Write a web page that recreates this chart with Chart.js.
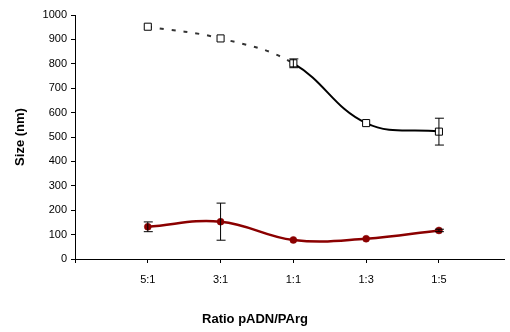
<!DOCTYPE html>
<html>
<head>
<meta charset="utf-8">
<script src="https://cdn.jsdelivr.net/npm/chart.js@4/dist/chart.umd.min.js"></script>
<style>
  html, body { margin: 0; padding: 0; background: #fff; }
  #wrap { width: 510px; height: 332px; }
</style>
</head>
<body>
<div id="wrap"><canvas id="sizeChart" width="510" height="332"></canvas></div>
<script>
// categories and values
const ratioLabels = ["5:1", "3:1", "1:1", "1:3", "1:5"];
const ratioPos = [1, 2, 3, 4, 5];
const sizeOpen = [952, 904, 802, 557, 522];
const errOpen = [0, 0, 18, 0, 55];
const sizeFilled = [132, 153, 78, 83, 117];
const errFilled = [20, 76, 0, 0, 5];
const yTicks = [0, 100, 200, 300, 400, 500, 600, 700, 800, 900, 1000];

const FONT = "'Liberation Sans', Arial, sans-serif";

// simple error bar plugin, drawn with the chart scales
const errorBars = {
  id: "errorBars",
  afterDatasetsDraw(chart) {
    const { ctx, scales } = chart;
    const sets = [
      [sizeOpen, errOpen],
      [sizeFilled, errFilled],
    ];
    ctx.save();
    ctx.strokeStyle = "#000";
    ctx.lineWidth = 1;
    sets.forEach(([vals, errs]) => {
      vals.forEach((v, i) => {
        if (!errs[i]) return;
        const x = scales.x.getPixelForValue(ratioPos[i]);
        const yHi = scales.y.getPixelForValue(v + errs[i]);
        const yLo = scales.y.getPixelForValue(v - errs[i]);
        ctx.beginPath();
        ctx.moveTo(x, yHi);
        ctx.lineTo(x, yLo);
        ctx.moveTo(x - 4, yHi);
        ctx.lineTo(x + 5, yHi);
        ctx.moveTo(x - 4, yLo);
        ctx.lineTo(x + 5, yLo);
        ctx.stroke();
      });
    });
    ctx.restore();
  },
};

new Chart(document.getElementById("sizeChart"), {
  type: "line",
  data: {
    datasets: [
      {
        label: "open",
        data: ratioPos.map((x, i) => ({ x, y: sizeOpen[i] })),
        borderColor: "#000",
        borderWidth: 2,
        tension: 0.4,
        pointStyle: "rect",
        pointRadius: 5,
        pointBackgroundColor: "#fff",
        pointBorderColor: "#000",
        pointBorderWidth: 1,
        segment: {
          borderDash: (c) => (c.p1DataIndex <= 2 ? [4, 8] : undefined),
          borderColor: (c) => (c.p1DataIndex <= 2 ? "#333" : "#000"),
        },
        clip: false,
      },
      {
        label: "filled",
        data: ratioPos.map((x, i) => ({ x, y: sizeFilled[i] })),
        borderColor: "#8b0000",
        borderWidth: 2.5,
        tension: 0.4,
        pointStyle: "circle",
        pointRadius: 3.5,
        pointBorderWidth: 0.5,
        pointBackgroundColor: "#8b0000",
        pointBorderColor: "#8b0000",
        clip: false,
      },
    ],
  },
  options: {
    responsive: false,
    animation: false,
    layout: { padding: { top: 15, right: 0, left: 0, bottom: 0 } },
    plugins: {
      legend: { display: false },
      tooltip: { enabled: false },
      title: {
        display: true,
        position: "bottom",
        text: "Ratio pADN/PArg",
        color: "#000",
        font: { family: FONT, size: 13, weight: "bold" },
        padding: { top: 0, bottom: 5 },
      },
    },
    scales: {
      x: {
        type: "linear",
        min: 0,
        max: 5.894,
        afterBuildTicks: (s) => {
          s.ticks = [0, ...ratioPos].map((v) => ({ value: v }));
        },
        afterFit: (s) => {
          s.height = 52.4;
        },
        ticks: {
          color: "#000",
          font: { family: FONT, size: 11 },
          padding: 10,
          maxRotation: 0,
          autoSkip: false,
          callback: (v) => ratioLabels[ratioPos.indexOf(v)] || "",
        },
        grid: { drawOnChartArea: false, tickLength: 4, color: "#000" },
        border: { color: "#000", width: 1 },
      },
      y: {
        min: 0,
        max: 1000,
        afterBuildTicks: (s) => {
          s.ticks = yTicks.map((v) => ({ value: v }));
        },
        afterFit: (s) => {
          s.width = 75;
        },
        ticks: {
          color: "#000",
          font: { family: FONT, size: 11 },
          padding: 4,
          callback: (v) => String(v),
        },
        grid: { drawOnChartArea: false, tickLength: 4, color: "#000" },
        border: { color: "#000", width: 1 },
        title: {
          display: true,
          text: "Size (nm)",
          color: "#000",
          font: { family: FONT, size: 13, weight: "bold" },
          padding: { top: 13, bottom: 0 },
        },
      },
    },
  },
  plugins: [errorBars],
});
</script>
</body>
</html>
